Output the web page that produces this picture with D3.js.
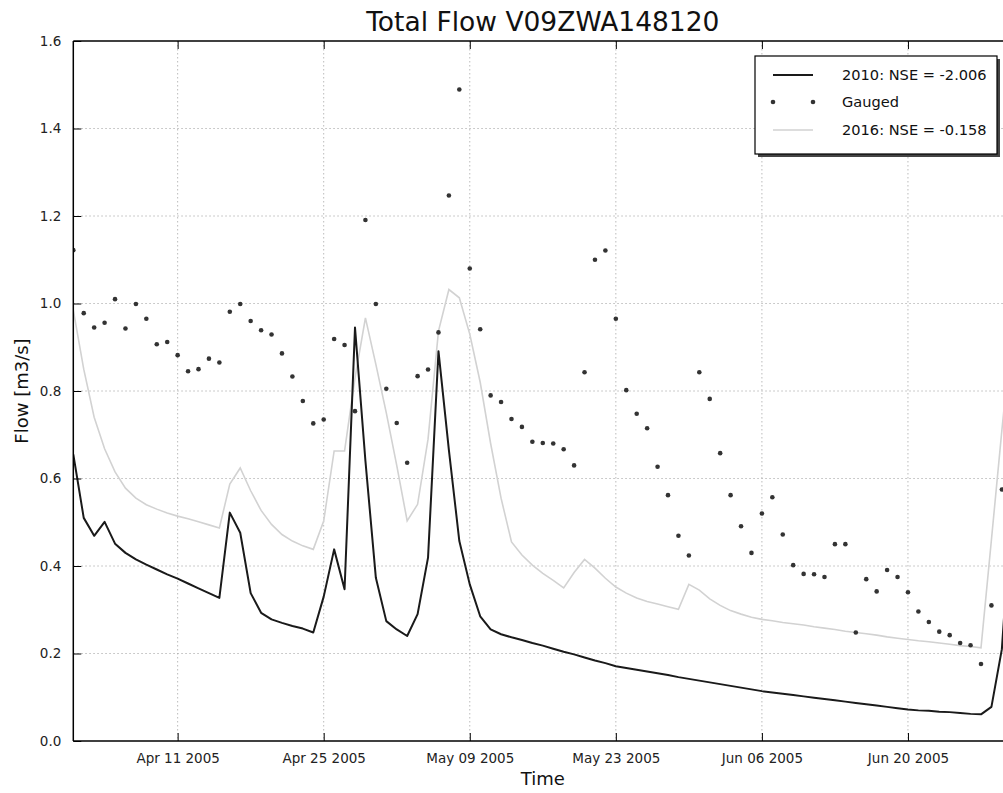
<!DOCTYPE html>
<html>
<head>
<meta charset="utf-8">
<script src="https://cdn.jsdelivr.net/npm/d3@7"></script>
<style>
  html, body { margin: 0; padding: 0; background: #fff; }
  svg { display: block; font-family: "DejaVu Sans", sans-serif; }
</style>
</head>
<body>
<svg id="chart" width="1003" height="793"></svg>
<script>
// ---------------- data ----------------
const startDate = new Date(Date.UTC(2005, 3, 1)); // Apr 01 2005, one value per day
const endDate = new Date(Date.UTC(2005, 5, 30));

const sim2010 = [
  0.655, 0.510, 0.469, 0.501, 0.451, 0.430, 0.415, 0.403, 0.392, 0.381,
  0.371, 0.360, 0.349, 0.338, 0.327, 0.522, 0.476, 0.338, 0.293, 0.278,
  0.270, 0.263, 0.257, 0.248, 0.330, 0.438, 0.347, 0.945, 0.640, 0.373,
  0.274, 0.255, 0.240, 0.290, 0.419, 0.891, 0.665, 0.457, 0.358, 0.285,
  0.255, 0.244, 0.237, 0.231, 0.224, 0.218, 0.211, 0.204, 0.198, 0.191,
  0.184, 0.178, 0.171, 0.167, 0.163, 0.159, 0.155, 0.151, 0.146, 0.142,
  0.138, 0.134, 0.130, 0.126, 0.122, 0.118, 0.114, 0.111, 0.108, 0.105,
  0.102, 0.099, 0.096, 0.093, 0.090, 0.087, 0.084, 0.081, 0.078, 0.075,
  0.072, 0.070, 0.069, 0.067, 0.066, 0.064, 0.062, 0.061, 0.078, 0.210,
  0.560
];

const sim2016 = [
  0.985, 0.850, 0.740, 0.668, 0.615, 0.578, 0.555, 0.540, 0.530, 0.521,
  0.514, 0.508, 0.501, 0.494, 0.487, 0.587, 0.624, 0.572, 0.527, 0.495,
  0.472, 0.457, 0.446, 0.438, 0.503, 0.663, 0.663, 0.830, 0.967, 0.861,
  0.750, 0.630, 0.503, 0.541, 0.690, 0.937, 1.032, 1.013, 0.930, 0.820,
  0.680, 0.555, 0.455, 0.425, 0.402, 0.383, 0.367, 0.350, 0.385, 0.415,
  0.395, 0.372, 0.352, 0.338, 0.327, 0.319, 0.313, 0.307, 0.301, 0.358,
  0.345, 0.325, 0.310, 0.298, 0.290, 0.283, 0.278, 0.275, 0.271, 0.268,
  0.265, 0.261, 0.258, 0.255, 0.251, 0.248, 0.245, 0.242, 0.238, 0.235,
  0.232, 0.229, 0.227, 0.224, 0.221, 0.218, 0.216, 0.213, 0.460, 0.710,
  0.950
];

const gauged = [
  1.122, 0.978, 0.945, 0.956, 1.010, 0.943, 0.999, 0.965, 0.907, 0.912,
  0.882, 0.845, 0.850, 0.874, 0.865, 0.981, 0.999, 0.960, 0.939, 0.929,
  0.886, 0.833, 0.777, 0.726, 0.735, 0.919, 0.905, 0.754, 1.191, 0.999,
  0.805, 0.727, 0.636, 0.834, 0.849, 0.934, 1.247, 1.489, 1.080, 0.941,
  0.790, 0.775, 0.736, 0.718, 0.684, 0.681, 0.680, 0.667, 0.630, 0.843,
  1.100, 1.121, 0.965, 0.802, 0.748, 0.715, 0.627, 0.562, 0.469, 0.424,
  0.843, 0.782, 0.658, 0.562, 0.491, 0.430, 0.520, 0.557, 0.472, 0.402,
  0.382, 0.381, 0.375, 0.450, 0.450, 0.248, 0.370, 0.342, 0.391, 0.375,
  0.340, 0.296, 0.272, 0.250, 0.242, 0.224, 0.219, 0.176, 0.310, 0.575
];

const yTicks = [0.0, 0.2, 0.4, 0.6, 0.8, 1.0, 1.2, 1.4, 1.6];
const xTickDates = ["2005-04-11", "2005-04-25", "2005-05-09", "2005-05-23", "2005-06-06", "2005-06-20"];
const legendLabels = ["2010: NSE = -2.006", "Gauged", "2016: NSE = -0.158"];
const titleText = "Total Flow V09ZWA148120";
const xLabel = "Time";
const yLabel = "Flow [m3/s]";

// ---------------- layout ----------------
const plot = { left: 73.3, right: 1012.3, top: 41, bottom: 741 };
const svg = d3.select("#chart");

const dayOf = i => new Date(startDate.getTime() + i * 86400000);

const x = d3.scaleUtc().domain([startDate, endDate]).range([plot.left, plot.right]);
const y = d3.scaleLinear().domain([0, 1.6]).range([plot.bottom, plot.top]);

const defs = svg.append("defs");
defs.append("clipPath").attr("id", "clip")
  .append("rect").attr("x", plot.left).attr("y", plot.top)
  .attr("width", plot.right - plot.left).attr("height", plot.bottom - plot.top);

// grid
const grid = svg.append("g");
grid.selectAll("line.gy").data(yTicks.slice(1, -1)).enter().append("line")
  .attr("x1", plot.left).attr("x2", plot.right)
  .attr("y1", d => y(d)).attr("y2", d => y(d))
  .attr("stroke", "#aaa").attr("stroke-width", 0.8).attr("stroke-dasharray", "1.5,2.5");
const xTicks = xTickDates.map(s => new Date(s + "T00:00:00Z"));
grid.selectAll("line.gx").data(xTicks).enter().append("line")
  .attr("y1", plot.top).attr("y2", plot.bottom)
  .attr("x1", d => x(d)).attr("x2", d => x(d))
  .attr("stroke", "#aaa").attr("stroke-width", 0.8).attr("stroke-dasharray", "1.5,2.5");

// series
const gData = svg.append("g").attr("clip-path", "url(#clip)");
const line = d3.line().x((d, i) => x(dayOf(i))).y(d => y(d));

gData.append("path").datum(sim2016).attr("d", line)
  .attr("fill", "none").attr("stroke", "#d2d2d2").attr("stroke-width", 1.6);

gData.append("path").datum(sim2010).attr("d", line)
  .attr("fill", "none").attr("stroke", "#1a1a1a").attr("stroke-width", 2)
  .attr("stroke-linejoin", "round");

gData.selectAll("circle.g").data(gauged).enter().append("circle")
  .attr("cx", (d, i) => x(dayOf(i))).attr("cy", d => y(d))
  .attr("r", 2.3).attr("fill", "#333");

// axes
const axisG = svg.append("g");
const yAxis = d3.axisLeft(y).tickValues(yTicks).tickFormat(d3.format(".1f")).tickSize(-8).tickPadding(12);
const yA = axisG.append("g").attr("transform", `translate(${plot.left},0)`).call(yAxis);
const xAxis = d3.axisBottom(x).tickValues(xTicks).tickFormat(d3.utcFormat("%b %d %Y")).tickSize(-8).tickPadding(12);
const xA = axisG.append("g").attr("transform", `translate(0,${plot.bottom})`).call(xAxis);
// top ticks
const xTop = d3.axisTop(x).tickValues(xTicks).tickFormat("").tickSize(-8);
const xT = axisG.append("g").attr("transform", `translate(0,${plot.top})`).call(xTop);

[yA, xA, xT].forEach(g => {
  g.select(".domain").remove();
  g.selectAll(".tick line").attr("stroke", "#000").attr("stroke-width", 1);
  g.selectAll(".tick text").attr("fill", "#222").style("font-size", "13.5px")
    .style("font-family", "DejaVu Sans, sans-serif");
});

// frame
[[plot.left, plot.top, plot.right, plot.top], [plot.left, plot.bottom, plot.right, plot.bottom],
 [plot.left, plot.top, plot.left, plot.bottom], [plot.right, plot.top, plot.right, plot.bottom]]
  .forEach(s => svg.append("line").attr("x1", s[0]).attr("y1", s[1]).attr("x2", s[2]).attr("y2", s[3])
    .attr("stroke", "#000").attr("stroke-width", 1.5));

// title and labels
svg.append("text").attr("x", (plot.left + plot.right) / 2).attr("y", 31)
  .attr("text-anchor", "middle").style("font-size", "26.5px").attr("fill", "#111").text(titleText);
svg.append("text").attr("x", (plot.left + plot.right) / 2).attr("y", 785)
  .attr("text-anchor", "middle").style("font-size", "18px").attr("fill", "#111").text(xLabel);
svg.append("text").attr("transform", `translate(28,${(plot.top + plot.bottom) / 2}) rotate(-90)`)
  .attr("text-anchor", "middle").style("font-size", "18px").attr("fill", "#111").text(yLabel);

// legend
const lg = svg.append("g");
const lb = { x: 755, y: 56, w: 242, h: 98 };
lg.append("rect").attr("x", lb.x + 3).attr("y", lb.y + 3).attr("width", lb.w).attr("height", lb.h)
  .attr("fill", "#444");
lg.append("rect").attr("x", lb.x).attr("y", lb.y).attr("width", lb.w).attr("height", lb.h)
  .attr("fill", "#fff").attr("stroke", "#000").attr("stroke-width", 1.2);
const rowsY = [75, 102, 130];
const items = lg.selectAll("g.item").data(legendLabels).enter().append("g")
  .attr("transform", (d, i) => `translate(0,${rowsY[i]})`);
items.append("text").attr("x", 842).attr("y", 5).style("font-size", "14.6px").attr("fill", "#111")
  .text(d => d);
items.filter((d, i) => i === 0).append("line").attr("x1", 773).attr("x2", 813)
  .attr("stroke", "#1a1a1a").attr("stroke-width", 2);
items.filter((d, i) => i === 2).append("line").attr("x1", 773).attr("x2", 813)
  .attr("stroke", "#d2d2d2").attr("stroke-width", 1.6);
items.filter((d, i) => i === 1).selectAll("circle").data([773, 813]).enter().append("circle")
  .attr("cx", d => d).attr("cy", 0).attr("r", 2.3).attr("fill", "#333");
</script>
</body>
</html>
